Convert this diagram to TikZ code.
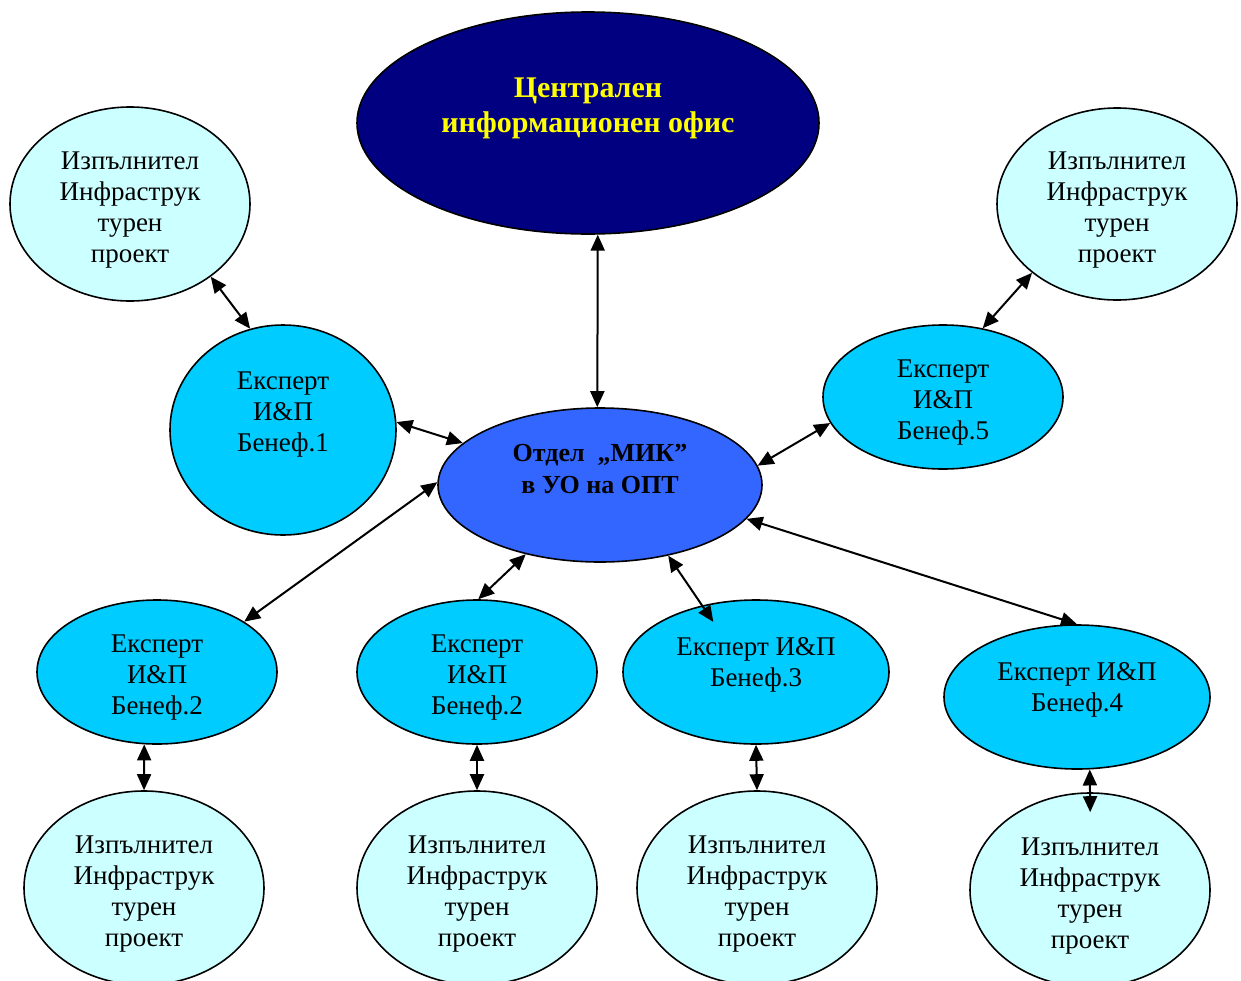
\documentclass[tikz,border=0pt]{standalone}
\usepackage{fontspec}
\setmainfont{Liberation Serif}
\usetikzlibrary{shapes.geometric,arrows.meta}
\definecolor{officeblue}{RGB}{0,0,128}
\definecolor{officeyellow}{RGB}{255,255,0}
\definecolor{mikblue}{RGB}{51,102,255}
\definecolor{expertblue}{RGB}{0,204,255}
\definecolor{builderblue}{RGB}{204,255,255}
\newcommand{\topgap}{\mbox{}\\[-1pt]}

\begin{document}
\begin{tikzpicture}[x=0.5pt,y=-0.5pt,
    every node/.style={ellipse,draw,line width=0.8pt,inner sep=0pt,align=center,
      font=\fontsize{13.5}{15.5}\selectfont},
    office/.style={fill=officeblue,text=officeyellow,
      font=\fontsize{15}{17.5}\selectfont\bfseries},
    mik/.style={fill=mikblue,font=\fontsize{13}{16}\selectfont\bfseries},
    expert/.style={fill=expertblue},
    builder/.style={fill=builderblue,minimum width=120pt,minimum height=97pt}]
      \useasboundingbox (0,0) rectangle (1241,980);
      \draw
        (588,123) node[office,minimum width=231pt,minimum height=111pt] (c){Централен\\информационен офис\\\mbox{}}
        (600,485) node[mik,minimum width=162pt,minimum height=77pt] (m){Отдел\ \ „МИК”\\в УО на ОПТ\\\mbox{}}
        (130,204) node[builder] (i0){\topgap Изпълнител\\Инфраструк\\турен\\проект}
        (1117,204) node[builder,minimum height=96pt] (i5){\topgap Изпълнител\\Инфраструк\\турен\\проект}
        (283,430) node[expert,minimum width=113pt,minimum height=105pt] (e1){Експерт\\И\&П\\Бенеф.1\\[3pt]\mbox{}}
        (943,397) node[expert,minimum width=120pt,minimum height=72pt] (e5){\topgap Експерт\\И\&П\\Бенеф.5}
        (157,672) node[expert,minimum width=120pt,minimum height=72pt] (e2){\topgap Експерт\\И\&П\\Бенеф.2}
        (477,672) node[expert,minimum width=120pt,minimum height=72pt] (e6){\topgap Експерт\\И\&П\\Бенеф.2}
        (756,672) node[expert,minimum width=133pt,minimum height=72pt] (e3){\topgap Експерт И\&П\\Бенеф.3\\\mbox{}}
        (1077,697) node[expert,minimum width=133pt,minimum height=72pt] (e4){\topgap Експерт И\&П\\Бенеф.4\\\mbox{}}
        (144,888) node[builder] (i2){\topgap Изпълнител\\Инфраструк\\турен\\проект}
        (477,888) node[builder] (i6){\topgap Изпълнител\\Инфраструк\\турен\\проект}
        (757,888) node[builder] (i3){\topgap Изпълнител\\Инфраструк\\турен\\проект}
        (1090,890) node[builder] (i4){\topgap Изпълнител\\Инфраструк\\турен\\проект};
      \begin{scope}[{Triangle[length=8pt,width=7pt]}-{Triangle[length=8pt,width=7pt]},line width=1pt]
        \draw (c.-85) to (m.92);
        \draw (i0.-42) to (e1.108);
        \draw (e1.4) to (m.163);
        \draw (m.179) to (e2.30);
        \draw (m.-137) to (e6.89);
        \draw[shorten >=-10pt] (m.-46) to (e3.129);
        \draw (m.-13) to (e4.90);
        \draw (m.7) to (e5.-167);
        \draw (e5.60) to (i5.-141);
        \draw (e2.-100) to (i2.90);
        \draw (e6.-90) to (i6.90);
        \draw (e3.-90) to (i3.90);
        \draw[shorten >=-10pt] (e4.-80) to (i4.90);
      \end{scope}
    \end{tikzpicture}
\end{document}
